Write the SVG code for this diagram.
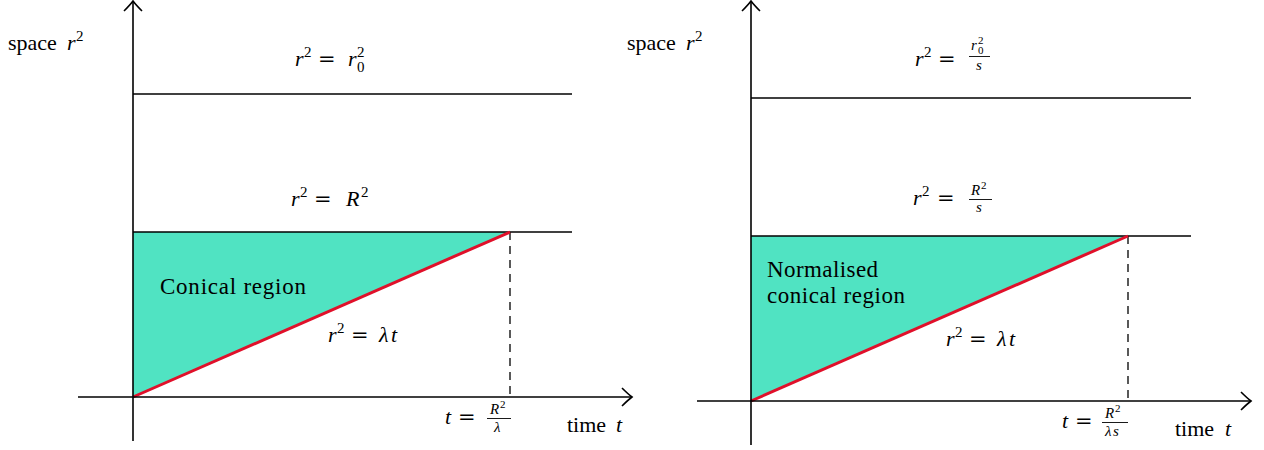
<svg xmlns="http://www.w3.org/2000/svg" width="1264" height="450" viewBox="0 0 1264 450" font-family="'Liberation Serif', 'DejaVu Serif', serif">
<style>
text{font-family:'Liberation Serif','DejaVu Serif',serif;fill:#000}
.t{font-size:22px}
.lb{font-size:23px}
.i{font-style:italic}
.eq{font-family:'DejaVu Serif',serif;font-size:21px;font-style:normal}
.sup{font-size:15px;font-style:normal}
.fr{font-size:15px;font-style:italic}
.fs{font-size:11px;font-style:normal}
.ax{stroke:#000;stroke-width:1.6;fill:none}
.ln{stroke:#000;stroke-width:1.3;fill:none}
.red{stroke:#e0102a;stroke-width:3;fill:none}
.dash{stroke:#000;stroke-width:1.3;stroke-dasharray:8 6;fill:none}
.fill{fill:#50e3c2;stroke:none}
.bar{stroke:#000;stroke-width:0.9}
</style>
<defs>
<marker id="arr" markerUnits="userSpaceOnUse" viewBox="-12 -12 14 24" refX="0" refY="0" markerWidth="14" markerHeight="24" orient="auto" overflow="visible">
<path d="M-10,-9 Q-4,-3 0,0 Q-4,3 -10,9" fill="none" stroke="#000" stroke-width="1.6"/>
</marker>
</defs>

<g id="left-plot">
<polygon class="fill" points="133,232 510,232 133,397"/>
<line class="ln" x1="133" y1="94" x2="572" y2="94"/>
<line class="ln" x1="133" y1="232" x2="572" y2="232"/>
<line class="dash" x1="510" y1="232" x2="510" y2="397"/>
<line class="red" x1="133" y1="397" x2="510" y2="232"/>
<line class="ax" x1="133" y1="441" x2="133" y2="1" marker-end="url(#arr)"/>
<line class="ax" x1="78" y1="397" x2="632" y2="397" marker-end="url(#arr)"/>
<text class="t" y="50"><tspan x="8">space</tspan><tspan x="67" class="i">r</tspan><tspan x="76" y="41" class="sup">2</tspan></text>
<text class="t" y="66"><tspan x="295" class="i">r</tspan><tspan x="304" y="57" class="sup">2</tspan><tspan x="318" y="66" class="eq">=</tspan><tspan x="348" class="i">r</tspan><tspan x="357" y="57" class="sup">2</tspan><tspan x="357" y="72" class="sup">0</tspan></text>
<text class="t" y="206"><tspan x="291" class="i">r</tspan><tspan x="300" y="197" class="sup">2</tspan><tspan x="314" y="206" class="eq">=</tspan><tspan x="346" class="i">R</tspan><tspan x="361" y="197" class="sup">2</tspan></text>
<text class="lb" x="160" y="294" textLength="146">Conical region</text>
<text class="t" y="342"><tspan x="328" class="i">r</tspan><tspan x="337" y="333" class="sup">2</tspan><tspan x="351" y="342" class="eq">=</tspan><tspan x="379" class="i">λ</tspan><tspan x="391" class="i">t</tspan></text>
<text class="t" y="424"><tspan x="445" class="i">t</tspan><tspan x="458" class="eq">=</tspan></text>
<text class="fr" y="414"><tspan x="490">R</tspan><tspan x="500" y="408" class="fs">2</tspan></text>
<line class="bar" x1="487" y1="418.5" x2="511" y2="418.5"/>
<text class="fr" x="494" y="432">λ</text>
<text class="t" y="432"><tspan x="567">time</tspan><tspan x="616" class="i">t</tspan></text>
</g>

<g id="right-plot">
<polygon class="fill" points="751,236 1128,236 751,401"/>
<line class="ln" x1="751" y1="98" x2="1191" y2="98"/>
<line class="ln" x1="751" y1="236" x2="1191" y2="236"/>
<line class="dash" x1="1128" y1="236" x2="1128" y2="401"/>
<line class="red" x1="751" y1="401" x2="1128" y2="236"/>
<line class="ax" x1="751" y1="445" x2="751" y2="1" marker-end="url(#arr)"/>
<line class="ax" x1="697" y1="401" x2="1251" y2="401" marker-end="url(#arr)"/>
<text class="t" y="50"><tspan x="627">space</tspan><tspan x="686" class="i">r</tspan><tspan x="695" y="41" class="sup">2</tspan></text>
<text class="t" y="66"><tspan x="915" class="i">r</tspan><tspan x="924" y="57" class="sup">2</tspan><tspan x="938" y="66" class="eq">=</tspan></text>
<text class="fr" y="50"><tspan x="971">r</tspan><tspan x="978" y="44" class="fs">2</tspan><tspan x="978" y="54" class="fs">0</tspan></text>
<line class="bar" x1="969" y1="56.5" x2="990" y2="56.5"/>
<text class="fr" x="976" y="70">s</text>
<text class="t" y="205"><tspan x="913" class="i">r</tspan><tspan x="922" y="196" class="sup">2</tspan><tspan x="937" y="205" class="eq">=</tspan></text>
<text class="fr" y="195"><tspan x="971">R</tspan><tspan x="981" y="189" class="fs">2</tspan></text>
<line class="bar" x1="969" y1="199.5" x2="992" y2="199.5"/>
<text class="fr" x="976" y="212">s</text>
<text class="lb" x="767" y="277" textLength="111">Normalised</text>
<text class="lb" x="767" y="303" textLength="138">conical region</text>
<text class="t" y="346"><tspan x="946" class="i">r</tspan><tspan x="955" y="337" class="sup">2</tspan><tspan x="969" y="346" class="eq">=</tspan><tspan x="997" class="i">λ</tspan><tspan x="1009" class="i">t</tspan></text>
<text class="t" y="428"><tspan x="1062" class="i">t</tspan><tspan x="1075" class="eq">=</tspan></text>
<text class="fr" y="418"><tspan x="1105">R</tspan><tspan x="1115" y="412" class="fs">2</tspan></text>
<line class="bar" x1="1102" y1="422.5" x2="1128" y2="422.5"/>
<text class="fr" y="436"><tspan x="1105">λ</tspan><tspan x="1113">s</tspan></text>
<text class="t" y="436"><tspan x="1175">time</tspan><tspan x="1225" class="i">t</tspan></text>
</g>
</svg>
